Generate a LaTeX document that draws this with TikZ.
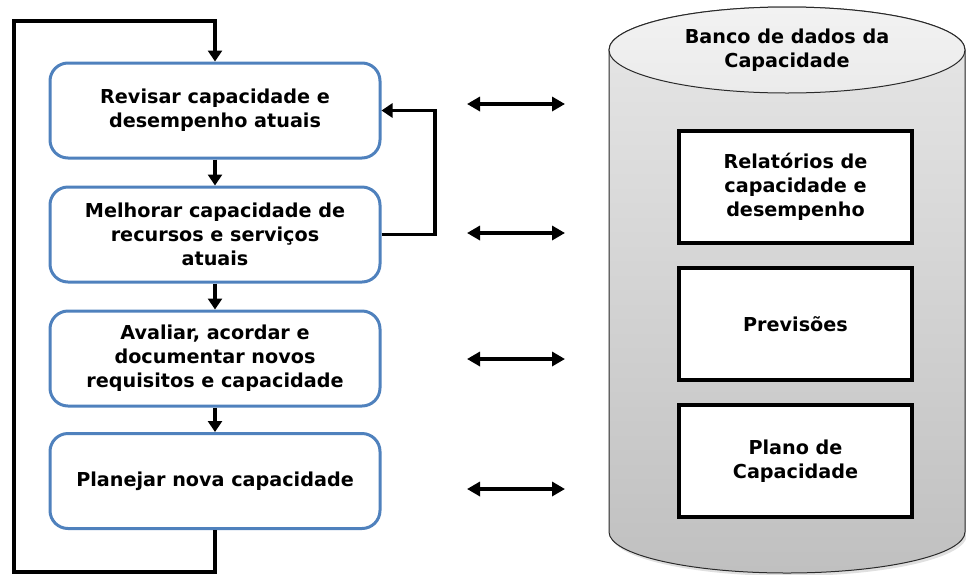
\documentclass[tikz,border=0pt]{standalone}
\usepackage{fontspec}
\setmainfont{DejaVu Sans}
\usetikzlibrary{arrows.meta}
\definecolor{boxblue}{HTML}{4F81BD}
\definecolor{cylline}{HTML}{2A2A2A}
\definecolor{cyltop}{HTML}{F2F2F2}
\definecolor{cyltopb}{HTML}{EBEBEB}
\definecolor{cylbodyt}{HTML}{E7E7E7}
\definecolor{cylbodyb}{HTML}{C0C0C0}
\tikzset{
  labelfont/.style={font=\bfseries\fontsize{19.2}{24}\selectfont},
  stepbox/.style={rectangle, rounded corners=18pt, draw=boxblue, line width=3pt,
    fill=white, minimum width=330pt, minimum height=95pt, align=center,
    labelfont, inner sep=2pt},
  storebox/.style={rectangle, draw=black, line width=3.2pt, fill=white,
    minimum width=233pt, minimum height=112pt, align=center, labelfont},
  flow/.style={line width=3.5pt, -{Triangle[length=11pt,width=14pt]}},
  link/.style={line width=3.5pt, {Triangle[length=13pt,width=14pt]}-{Triangle[length=13pt,width=14pt]}},
}
\begin{document}
\begin{tikzpicture}[x=1pt,y=-1pt]
\useasboundingbox (0,0) rectangle (966,574);

% database cylinder: soft shadow, body, then lid
\fill[black, opacity=0.12]
  (611,56) -- (611,535) arc[start angle=180, end angle=0, x radius=178, y radius=41]
  -- (967,56) -- cycle;
\shade[top color=cylbodyt, bottom color=cylbodyb, draw=cylline, line width=1pt]
  (609,50) -- (609,532) arc[start angle=180, end angle=0, x radius=178, y radius=41]
  -- (965,50) arc[start angle=0, end angle=-180, x radius=178, y radius=43] -- cycle;
\shade[top color=cyltop, bottom color=cyltopb, draw=cylline, line width=1pt]
  (787,50) ellipse[x radius=178, y radius=43];
\node[align=center, labelfont] (dbtitle) at (787,50)
  {Banco de dados da\\Capacidade};

% records held in the database
\node[storebox] (rel) at (795.5,187) {Relatórios de\\capacidade e\\desempenho};
\node[storebox] (prev) at (795.5,324) {Previsões};
\node[storebox] (plano) at (795.5,461) {Plano de\\Capacidade};

% process steps
\node[stepbox] (s1) at (215,110.5) {Revisar capacidade e\\desempenho atuais};
\node[stepbox] (s2) at (215,234.5) {Melhorar capacidade de\\recursos e serviços\\atuais};
\node[stepbox] (s3) at (215,358.5) {Avaliar, acordar e\\documentar novos\\requisitos e capacidade};
\node[stepbox] (s4) at (215,481) {Planejar nova capacidade};

% flow between steps
\draw[flow] (s1) -- (s2);
\draw[flow] (s2) -- (s3);
\draw[flow] (s3) -- (s4);

% outer cycle back to the first step
\coordinate (loopbot) at (215,572);
\coordinate (looptl) at (14,21);
\draw[flow] (s4.south) -- (loopbot) -| (looptl) -| (s1.north);

% feedback from improvement back to review
\coordinate (fbk) at (435,234.5);
\draw[flow] (s2.east) -- (fbk) |- (s1.east);

% exchanges with the database
\foreach \y/\n in {104/1, 233/2, 359/3, 489/4} {
  \coordinate (la\n) at (467,\y);
  \coordinate (ra\n) at (565,\y);
  \draw[link] (la\n) -- (ra\n);
}
\end{tikzpicture}
\end{document}
